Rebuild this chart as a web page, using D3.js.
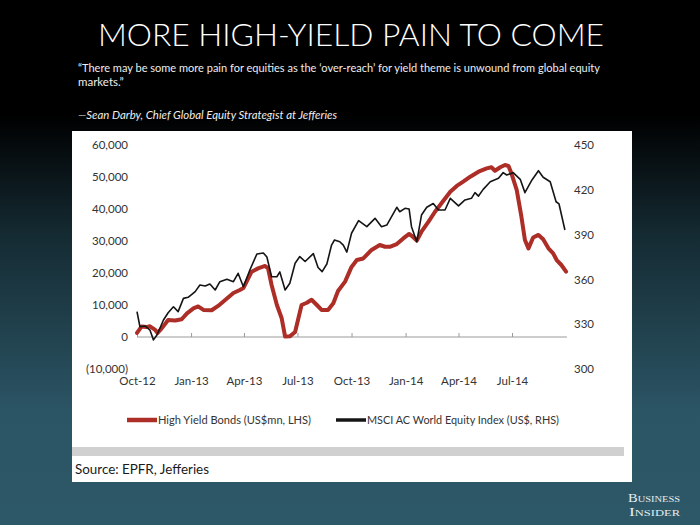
<!DOCTYPE html>
<html><head><meta charset="utf-8">
<script src="https://cdn.jsdelivr.net/npm/d3@7"></script>
<style>html,body{margin:0;padding:0;background:#000;} svg{display:block;}</style>
</head><body><svg id="c" width="700" height="525"></svg>
<script>
// ---- data ----
const hyDates = ["2012-10-01","2012-10-09","2012-10-17","2012-10-23","2012-11-01","2012-11-05","2012-11-12","2012-11-23","2012-12-05","2012-12-16","2012-12-25",
"2013-01-05","2013-01-13","2013-01-22","2013-02-05","2013-02-16","2013-02-28","2013-03-14","2013-03-25","2013-03-31","2013-04-14","2013-04-25","2013-05-07","2013-05-12","2013-05-18","2013-05-27","2013-06-04","2013-06-10","2013-06-18","2013-06-27","2013-07-08","2013-07-17","2013-07-25","2013-08-03","2013-08-11","2013-08-22","2013-08-31","2013-09-08","2013-09-20","2013-10-01","2013-10-10","2013-10-21","2013-11-04","2013-11-18","2013-11-27","2013-12-05","2013-12-17","2013-12-28",
"2014-01-07","2014-01-12","2014-01-20","2014-01-28","2014-02-09","2014-02-20","2014-03-03","2014-03-18","2014-03-29","2014-04-09","2014-04-21","2014-05-05","2014-05-19","2014-05-27","2014-06-02","2014-06-11","2014-06-19","2014-06-25","2014-06-30","2014-07-09","2014-07-17","2014-07-23","2014-07-29","2014-08-06","2014-08-15","2014-08-23","2014-09-01","2014-09-09","2014-09-15","2014-09-23","2014-10-01"];
const hyValues = [1300,3300,3100,3350,2200,1250,2700,5300,5150,5550,7400,
8950,9550,8450,8350,9700,11550,13750,14700,15300,20400,21450,22200,21450,16250,10000,5950,150,200,1550,10000,10700,11650,10000,8450,8450,10550,14400,17300,21900,24050,24550,27200,28750,28200,28200,29050,30800,
32200,31550,30100,32900,36050,39150,41800,45400,47200,48550,50100,51650,52700,53050,51950,53050,53750,53450,51150,45950,37600,30300,27700,31100,31900,30550,27700,26150,24050,22500,20400];

const eqDates = ["2012-10-01","2012-10-06","2012-10-15","2012-10-23","2012-10-29","2012-11-04","2012-11-15","2012-11-23","2012-12-02","2012-12-10","2012-12-19","2012-12-27",
"2013-01-08","2013-01-16","2013-01-25","2013-02-02","2013-02-11","2013-02-19","2013-03-03","2013-03-14","2013-03-22","2013-03-31","2013-04-11","2013-04-23","2013-05-04","2013-05-10","2013-05-18","2013-05-27","2013-06-01","2013-06-10","2013-06-18","2013-06-27","2013-07-05","2013-07-14","2013-07-28","2013-08-05","2013-08-12","2013-08-20","2013-08-28","2013-09-02","2013-09-11","2013-09-17","2013-09-23","2013-10-01","2013-10-13","2013-10-27","2013-11-10","2013-11-21","2013-11-30","2013-12-17","2013-12-22","2013-12-31",
"2014-01-07","2014-01-11","2014-01-20","2014-01-28","2014-02-06","2014-02-17","2014-02-26","2014-03-09","2014-03-18","2014-04-01","2014-04-12","2014-04-23","2014-04-29","2014-05-05","2014-05-13","2014-05-25","2014-06-08","2014-06-16","2014-06-22","2014-07-03","2014-07-15","2014-07-23","2014-08-04","2014-08-15","2014-08-23","2014-09-04","2014-09-14","2014-09-19","2014-09-29"];
const eqValues = [338.4,328.3,328.8,326.1,319.5,322.8,332.8,337.7,341.7,338.4,347.3,348.0,
351.8,356.2,355.6,356.9,352.9,358.5,360.1,358.5,364.1,355.1,366.3,377.0,377.7,375.0,361.8,361.8,365.0,352.9,357.4,370.8,375.3,372.0,377.3,368.0,365.2,370.3,383.0,386.4,385.2,383.0,378.3,390.9,399.3,395.3,400.9,395.3,396.4,408.3,405.3,407.6,
407.1,395.3,385.2,403.1,408.3,410.8,406.5,406.5,414.3,409.2,413.2,414.3,418.1,415.8,420.3,425.4,427.7,431.5,429.9,431.5,427.0,418.1,426.6,432.8,428.4,425.4,412.0,410.5,393.1];

const leftTicks = [60000,50000,40000,30000,20000,10000,0,-10000];
const rightTicks = [450,420,390,360,330,300];
const xTickDates = ["2012-10-01","2013-01-01","2013-04-01","2013-07-01","2013-10-01","2014-01-01","2014-04-01","2014-07-01"];
const xTickLabels = ["Oct-12","Jan-13","Apr-13","Jul-13","Oct-13","Jan-14","Apr-14","Jul-14"];
const seriesNames = ["High Yield Bonds (US$mn, LHS)","MSCI AC World Equity Index (US$, RHS)"];

// ---- drawing ----
const parse = d3.utcParse("%Y-%m-%d");
const svg = d3.select("#c");
const defs = svg.append("defs");
const g = defs.append("linearGradient").attr("id","bg").attr("x1",0).attr("y1",0).attr("x2",0).attr("y2",1);
g.append("stop").attr("offset","0%").attr("stop-color","#000");
g.append("stop").attr("offset","22%").attr("stop-color","#000");
g.append("stop").attr("offset","45%").attr("stop-color","#152b33");
g.append("stop").attr("offset","78%").attr("stop-color","#2b5464");
g.append("stop").attr("offset","100%").attr("stop-color","#2d5868");
svg.append("rect").attr("width",700).attr("height",525).attr("fill","url(#bg)");

// title & quote
svg.append("text").attr("x",351).attr("y",46).attr("text-anchor","middle")
  .attr("font-family","Lato").attr("font-weight",300).attr("font-size",31).attr("fill","#fff")
  .attr("textLength",506).attr("lengthAdjust","spacingAndGlyphs")
  .text("MORE HIGH-YIELD PAIN TO COME");
svg.append("text").attr("x",78).attr("y",72).attr("font-family","Lato").attr("font-size",11.5).attr("fill","#eee")
  .attr("textLength",522).attr("lengthAdjust","spacingAndGlyphs")
  .text("\u201cThere may be some more pain for equities as the \u2018over-reach\u2019 for yield theme is unwound from global equity");
svg.append("text").attr("x",78).attr("y",86).attr("font-family","Lato").attr("font-size",11.5).attr("fill","#eee")
  .text("markets.\u201d");
svg.append("text").attr("x",78).attr("y",119).attr("font-family","Lato").attr("font-style","italic").attr("font-size",11.5).attr("fill","#eee")
  .attr("textLength",259).attr("lengthAdjust","spacingAndGlyphs")
  .text("\u2014Sean Darby, Chief Global Equity Strategist at Jefferies");

// panel
svg.append("rect").attr("x",72).attr("y",131).attr("width",560).attr("height",351).attr("fill","#fff");
svg.append("rect").attr("x",72).attr("y",447).attr("width",552).attr("height",9).attr("fill","#d0d0d0");
svg.append("text").attr("x",75).attr("y",474).attr("font-family","Lato").attr("font-size",14).attr("fill","#1a1a1a")
  .attr("textLength",134).attr("lengthAdjust","spacingAndGlyphs")
  .text("Source: EPFR, Jefferies");

// scales
const x = d3.scaleUtc().domain([parse("2012-10-01"), parse("2014-07-01")]).range([137,512]);
const yL = d3.scaleLinear().domain([-10000,60000]).range([369,145]);
const yR = d3.scaleLinear().domain([300,450]).range([369,145]);

const fmtL = v => v < 0 ? "(" + d3.format(",")(-v) + ")" : d3.format(",")(v);

const axL = svg.append("g").attr("transform","translate(128,0)")
  .call(d3.axisLeft(yL).tickValues(leftTicks).tickFormat(fmtL).tickSize(0).tickPadding(0));
const axR = svg.append("g").attr("transform","translate(574,0)")
  .call(d3.axisRight(yR).tickValues(rightTicks).tickSize(0).tickPadding(0));
[axL, axR].forEach(a => {
  a.select(".domain").remove();
  a.selectAll("text").attr("font-family","Lato").attr("font-size",11.5).attr("fill","#333");
});

// zero axis line with upward ticks
const lastDate = parse(eqDates[eqDates.length-1]);
svg.append("line").attr("x1",x.range()[0]).attr("x2",x(lastDate)+2).attr("y1",yL(0)).attr("y2",yL(0))
  .attr("stroke","#9a9a9a").attr("stroke-width",1);
const axB = svg.append("g").attr("transform",`translate(0,${yL(0)})`)
  .call(d3.axisBottom(x).tickValues(xTickDates.map(parse)).tickSize(-4).tickFormat(""));
axB.select(".domain").remove();
axB.selectAll("line").attr("stroke","#9a9a9a");
const axB2 = svg.append("g").attr("transform","translate(0,377)")
  .call(d3.axisBottom(x).tickValues(xTickDates.map(parse)).tickSize(0).tickPadding(0)
    .tickFormat((d,i) => xTickLabels[i]));
axB2.select(".domain").remove();
axB2.selectAll("text").attr("font-family","Lato").attr("font-size",11.5).attr("fill","#333");

// lines
const hy = hyDates.map((d,i) => ({d: parse(d), v: hyValues[i]}));
const eq = eqDates.map((d,i) => ({d: parse(d), v: eqValues[i]}));
svg.append("path").datum(hy)
  .attr("d", d3.line().x(p => x(p.d)).y(p => yL(p.v)))
  .attr("fill","none").attr("stroke","#ad2d27").attr("stroke-width",4)
  .attr("stroke-linejoin","round").attr("stroke-linecap","round");
svg.append("path").datum(eq)
  .attr("d", d3.line().x(p => x(p.d)).y(p => yR(p.v)))
  .attr("fill","none").attr("stroke","#151515").attr("stroke-width",1.6)
  .attr("stroke-linejoin","round");

// legend
const leg = [{x:127, c:"#ad2d27", w:4.5}, {x:336, c:"#151515", w:3.5}];
leg.forEach((l,i) => {
  svg.append("line").attr("x1",l.x).attr("x2",l.x+30).attr("y1",420).attr("y2",420)
    .attr("stroke",l.c).attr("stroke-width",l.w);
  svg.append("text").attr("x",l.x+31).attr("y",424).attr("font-family","Lato").attr("font-size",11.5).attr("fill","#333")
    .attr("textLength", i===0 ? 153 : 192).attr("lengthAdjust","spacingAndGlyphs")
    .text(seriesNames[i]);
});

// logo
const logo = svg.append("g").attr("font-family","Liberation Serif").attr("fill","#e6eef0");
logo.append("text").attr("x",628).attr("y",502).attr("font-size",12.5).attr("font-variant","small-caps")
  .attr("textLength",52).attr("lengthAdjust","spacingAndGlyphs").text("Business");
logo.append("text").attr("x",629).attr("y",516).attr("font-size",12.5).attr("font-variant","small-caps")
  .attr("textLength",51).attr("lengthAdjust","spacingAndGlyphs").text("Insider");
</script>
</body></html>
